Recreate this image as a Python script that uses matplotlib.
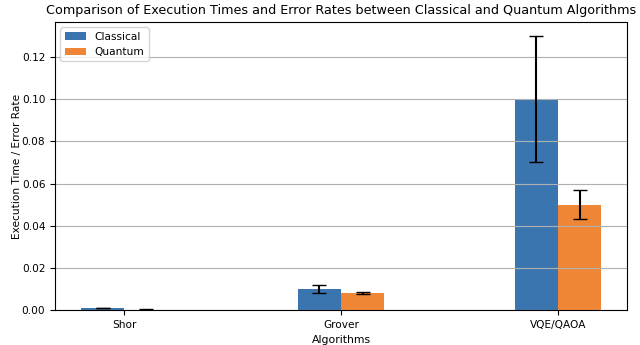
import numpy as np
import matplotlib.pyplot as plt

# algorithms and measured values
algorithms = ['Shor', 'Grover', 'VQE/QAOA']
classical = [0.001, 0.01, 0.1]
classical_err = [0.0002, 0.002, 0.03]
quantum = [0.0003, 0.008, 0.05]
quantum_err = [0.0001, 0.0005, 0.007]

x = np.arange(len(algorithms))
width = 0.2

fig, ax = plt.subplots(figsize=(6.4, 3.45), dpi=100)
fig.subplots_adjust(left=0.086, right=0.98, bottom=0.101, top=0.936)

ax.bar(x - width / 2, classical, width, yerr=classical_err, capsize=5,
       label='Classical', color='#3A75AF')
ax.bar(x + width / 2, quantum, width, yerr=quantum_err, capsize=5,
       label='Quantum', color='#EF8636')

ax.set_xticks(x, algorithms, fontsize=7.6)
ax.tick_params(axis='y', labelsize=7.6)
ax.set_xlabel('Algorithms', fontsize=7.8)
ax.set_ylabel('Execution Time / Error Rate', fontsize=7.6, labelpad=0)
ax.set_title('Comparison of Execution Times and Error Rates between Classical and Quantum Algorithms',
             fontsize=9.2)
ax.legend(loc='upper left', fontsize=7.7)
ax.yaxis.grid(True)

plt.savefig('out.png')
